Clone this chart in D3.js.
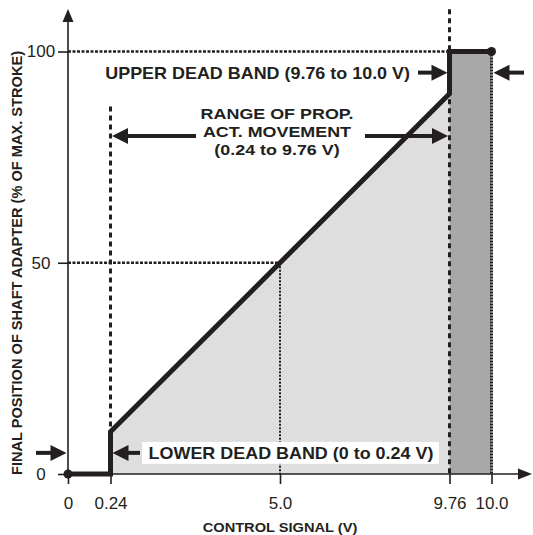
<html>
<script src='https://d3js.org/d3.v7.min.js'></script>

<style>
  body {margin: 0; background: white;}
  text {font-family: Arial, 'Liberation Sans', sans-serif; fill: #231f20;}
</style>

<body>
<svg width=533 height=535></svg>

<script>
// actuator response curve (control signal V -> % of max stroke)
const signalV = [0, 0.24, 0.24, 9.76, 9.76, 10.0];
const positionPct = [0, 0, 10, 90, 100, 100];

// tick values and labels
const xTicks = [0, 0.24, 5.0, 9.76, 10.0];
const xTickLabels = ['0', '0.24', '5.0', '9.76', '10.0'];
const yTicks = [0, 50, 100];
const yTickLabels = ['0', '50', '100'];

// band limits
const lowerBand = [0, 0.24];
const upperBand = [9.76, 10.0];
const midPoint = [5.0, 50];

// annotation texts
const upperText = ['UPPER DEAD BAND (9.76 to 10.0 V)'];
const rangeText = ['RANGE OF PROP.', 'ACT. MOVEMENT', '(0.24 to 9.76 V)'];
const lowerText = ['LOWER DEAD BAND (0 to 0.24 V)'];

const ink = '#231f20';
const svg = d3.select('svg');

// x is drawn out of scale: the dead bands are stretched
const xs = d3.scaleLinear().domain([0, 0.24, 9.76, 10]).range([68, 110.5, 449.5, 491.5]);
const ys = d3.scaleLinear().domain([0, 100]).range([474, 51.5]);

const pts = signalV.map(function(d, i) { return {v: d, p: positionPct[i]}; });

// light grey area under the proportional part
const area = d3.area()
  .x(function(d) { return xs(d.v); })
  .y0(ys(0))
  .y1(function(d) { return ys(d.p); });
svg.append('path')
  .datum(pts.slice(2, 4))
  .attr('d', area)
  .attr('fill', '#dedede');

// dark grey upper dead band
svg.append('rect')
  .attr('x', xs(upperBand[0]))
  .attr('y', ys(100))
  .attr('width', xs(upperBand[1]) - xs(upperBand[0]))
  .attr('height', ys(0) - ys(100))
  .attr('fill', '#a8a8a8');

// reference lines
var refLine = function(x1, y1, x2, y2, w, dash) {
  svg.append('line')
    .attr('x1', xs(x1)).attr('y1', ys(y1))
    .attr('x2', xs(x2)).attr('y2', ys(y2))
    .attr('stroke', ink).attr('stroke-width', w)
    .attr('stroke-dasharray', dash);
}
refLine(0, 100, upperBand[0], 100, 2.5, '3,1.5');
refLine(0, midPoint[1], midPoint[0], midPoint[1], 2.5, '3,1.5');
refLine(midPoint[0], midPoint[1], midPoint[0], 0, 2, '2,1.5');
refLine(lowerBand[1], 87, lowerBand[1], 0, 3, '5,4');
refLine(upperBand[0], 110, upperBand[0], 0, 3, '5,4');
refLine(upperBand[1], 100, upperBand[1], 0, 3, '2,1');

// axes
const xAxis = d3.axisBottom(xs).tickValues(xTicks).tickSize(10).tickPadding(13)
  .tickFormat(function(d, i) { return xTickLabels[i]; });
const yAxis = d3.axisLeft(ys).tickValues(yTicks).tickSize(10)
  .tickFormat(function(d, i) { return yTickLabels[i]; });

const gx = svg.append('g').attr('transform', 'translate(0,' + ys(0) + ')').call(xAxis);
const gy = svg.append('g').attr('transform', 'translate(' + xs(0) + ',0)').call(yAxis);
[gx, gy].forEach(function(g) {
  g.select('.domain').remove();
  g.selectAll('line').attr('stroke', ink).attr('stroke-width', 1.6);
  g.selectAll('text').attr('font-size', 17).attr('fill', ink)
    .attr('font-family', "Arial, 'Liberation Sans', sans-serif");
});
gy.selectAll('text').attr('text-anchor', 'middle').attr('x', -27);

// axis lines with arrow heads
svg.append('line')
  .attr('x1', xs(0)).attr('y1', ys(0)).attr('x2', 526).attr('y2', ys(0))
  .attr('stroke', ink).attr('stroke-width', 1.6);
svg.append('path')
  .attr('d', 'M532,' + ys(0) + 'l-14,-5.5l0,11z').attr('fill', ink);
svg.append('line')
  .attr('x1', xs(0)).attr('y1', ys(0)).attr('x2', xs(0)).attr('y2', 16)
  .attr('stroke', ink).attr('stroke-width', 1.6);
svg.append('path')
  .attr('d', 'M' + xs(0) + ',9l-5.5,13l11,0z').attr('fill', ink);

// response curve
const line = d3.line()
  .x(function(d) { return xs(d.v); })
  .y(function(d) { return ys(d.p); });
svg.append('path')
  .datum(pts)
  .attr('d', line)
  .attr('fill', 'none')
  .attr('stroke', ink)
  .attr('stroke-width', 5)
  .attr('stroke-linejoin', 'miter');

svg.selectAll('.endDot')
  .data([pts[0], pts[pts.length - 1]])
  .enter()
  .append('circle')
    .attr('cx', function(d) { return xs(d.v); })
    .attr('cy', function(d) { return ys(d.p); })
    .attr('r', 4.5)
    .attr('fill', ink);

// arrow: from tail (x1) to tip (x2) at height y (pixels)
var arrow = function(x1, x2, y) {
  const dir = x2 > x1 ? 1 : -1;
  svg.append('line')
    .attr('x1', x1).attr('y1', y)
    .attr('x2', x2 - dir * 10).attr('y2', y)
    .attr('stroke', ink).attr('stroke-width', 4);
  svg.append('path')
    .attr('d', 'M' + x2 + ',' + y + 'l' + (-dir * 16) + ',-8l0,16z')
    .attr('fill', ink);
}

// bold label, a bit wider than plain Arial like the original artwork
var label = function(x, y, anchor, lines, size, stretch, gap) {
  svg.append('g')
    .attr('transform', 'translate(' + x + ',' + y + ') scale(' + stretch + ',1)')
    .append('text')
      .attr('text-anchor', anchor)
      .attr('font-size', size).attr('font-weight', 'bold')
    .selectAll('tspan')
    .data(lines)
    .enter()
    .append('tspan')
      .attr('x', 0)
      .attr('y', function(d, i) { return i * gap; })
      .text(function(d) { return d; });
}

// upper dead band annotation
label(410, ys(95) + 6, 'end', upperText, 16.3, 1.1, 0);
arrow(418, xs(upperBand[0]) - 2, ys(95));
arrow(524, xs(upperBand[1]) + 2, ys(95));

// proportional range annotation
label(277, 119, 'middle', rangeText, 15.5, 1.155, 18);
arrow(196, xs(lowerBand[1]) + 1.5, ys(80));
arrow(365, xs(upperBand[0]) - 1.5, ys(80));

// lower dead band annotation
svg.append('rect')
  .attr('x', 142).attr('y', ys(5) - 11)
  .attr('width', 297).attr('height', 22)
  .attr('fill', 'white');
label(291, ys(5) + 6, 'middle', lowerText, 16.3, 1.1, 0);
arrow(36, xs(0) - 1.5, ys(5));
arrow(140, xs(lowerBand[1]) + 2, ys(5));

// axis titles
svg.append('g')
  .attr('transform', 'translate(' + xs(midPoint[0]) + ',532) scale(1.1,1)')
  .append('text')
    .attr('text-anchor', 'middle')
    .attr('font-size', 13.3).attr('font-weight', 'bold')
    .text('CONTROL SIGNAL (V)');
svg.append('text')
  .attr('transform', 'translate(22,263) rotate(-90)')
  .attr('text-anchor', 'middle')
  .attr('font-size', 14.6).attr('font-weight', 'bold')
  .text('FINAL POSITION OF SHAFT ADAPTER (% OF MAX. STROKE)');
</script>
</body>
</html>
